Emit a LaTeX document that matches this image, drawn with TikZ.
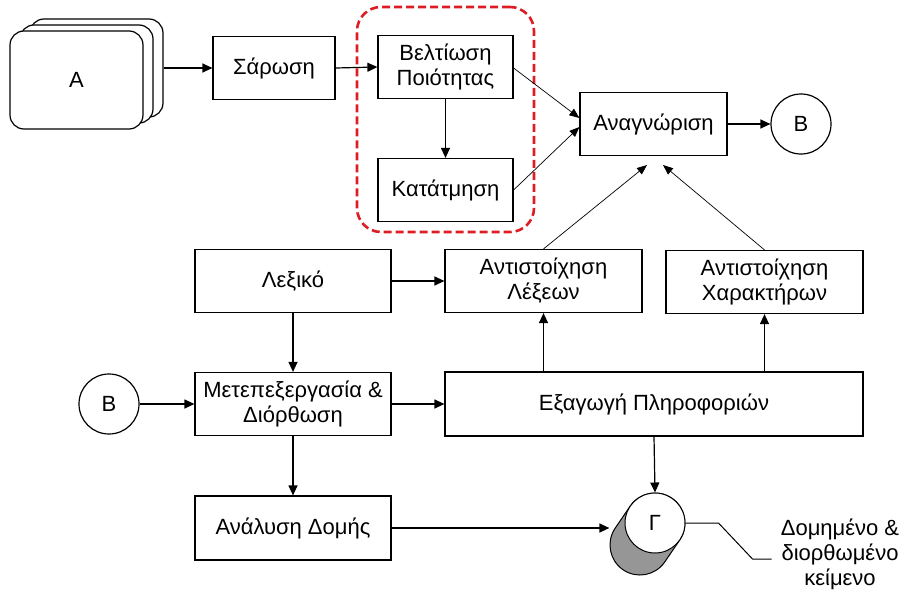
\documentclass[tikz,border=0pt]{standalone}
\usepackage{fontspec}
\setmainfont{Liberation Sans}
\usetikzlibrary{arrows.meta,calc}
\tikzstyle{every path}=[line width=1.2pt]
\tikzstyle{every node}=[font=\fontsize{22}{25}\selectfont]
\tikzstyle{block}=[draw, minimum height=63pt, inner sep=2pt, align=center]
\tikzstyle{page}=[draw, fill=white, rounded corners=14pt, minimum width=133pt, minimum height=98pt]
\tikzstyle{link}=[draw, circle, minimum size=60pt, inner sep=0pt]
\tikzstyle{flow}=[-{Triangle[length=10pt,width=9pt]}]
\tikzstyle{thinflow}=[line width=0.7pt, -{Triangle[length=10pt,width=8pt]}]
\definecolor{dashred}{RGB}{222,28,36}
\definecolor{shade}{RGB}{150,150,150}

\begin{document}
\begin{tikzpicture}[x=1pt, y=-1pt]
            \useasboundingbox (0,0) rectangle (915,594);

            \node[draw=dashred, line width=2.6pt, dash pattern=on 8pt off 4pt,
                rounded corners=24pt, minimum width=177pt, minimum height=225pt] (grp) at (445.5,119.5) {};

            \node[page] (A3) at (96.5,68) {};
            \node[page] (A2) at (86.5,74) {};
            \node[page] (A) at (76.5,80) {Α};
            \node[block, minimum width=122pt] (SA) at (274,68) {Σάρωση};
            \node[block, minimum width=135pt] (BP) at (445.5,67) {Βελτίωση\\Ποιότητας};
            \node[block, minimum width=135pt] (KT) at (445.5,190) {Κατάτμηση};
            \node[block, minimum width=147pt] (AN) at (653.5,124) {Αναγνώριση};
            \node[link] (B1) at (801,124) {Β};

            \node[block, minimum width=196pt] (LX) at (293,281) {Λεξικό};
            \node[block, minimum width=197pt] (AL) at (543.5,281) {Αντιστοίχηση\\Λέξεων};
            \node[block, minimum width=197pt] (AX) at (764.5,282) {Αντιστοίχηση\\Χαρακτήρων};

            \node[link] (B2) at (109,404) {Β};
            \node[block, minimum width=196pt] (ME) at (293,404) {Μετεπεξεργασία \&\\Διόρθωση};
            \node[block, minimum width=418pt, minimum height=64pt] (EP) at (654,404) {Εξαγωγή Πληροφοριών};
            \node[block, minimum width=196pt, minimum height=64pt] (AD) at (293,528) {Ανάλυση Δομής};

            \node[circle, minimum size=60pt, inner sep=0pt] (GS) at (640,545) {};
            \filldraw[fill=shade, line width=1pt] ($(GS)+(34.3:30)$) arc[start angle=34.3, end angle=214.3, radius=30]
                -- ($(655,523)+(214.3:30)$) arc[start angle=214.3, end angle=394.3, radius=30] -- cycle;
            \node[link, fill=white, line width=1pt] (G) at (655,523) {Γ};
            \node[align=center] (txt) at (840,554) {Δομημένο \&\\διορθωμένο\\κείμενο};

            \coordinate (ANa) at ($(AN.west)+(0,-6)$);
            \coordinate (ANb) at ($(AN.west)+(0,3)$);
            \coordinate (ANc) at (647,165);
            \coordinate (ANd) at (663,165);

            \draw[flow] (A3.east) -- (SA.west);
            \draw[flow] (SA.east) -- (BP.west);
            \draw[flow] (BP.south) -- (KT.north);
            \draw[thinflow] (BP.east |- 0,68) -- (ANa);
            \draw[thinflow] (KT.east) -- (ANb);
            \draw[flow] (AN.east) -- (B1.west);
            \draw[thinflow] (AL.north) -- (ANc);
            \draw[thinflow] (AX.north) -- (ANd);

            \draw[flow] (LX.east) -- (AL.west);
            \draw[flow] (LX.south) -- (ME.north);
            \draw[flow] (B2.east) -- (ME.west);
            \draw[flow] (ME.east) -- (EP.west);
            \draw[flow] (AL.south |- EP.north) -- (AL.south);
            \draw[flow] (AX.south |- EP.north) -- (AX.south);
            \draw[flow] (ME.south) -- (AD.north);
            \draw[flow] (EP.south) -- (G.north);
            \draw[flow] (AD.east) -- (AD.east -| GS.west);
            \draw[line width=1pt] (G.east) -- ++(33,0) -- ++(34,36) -- ++(19,0);
        \end{tikzpicture}
\end{document}
